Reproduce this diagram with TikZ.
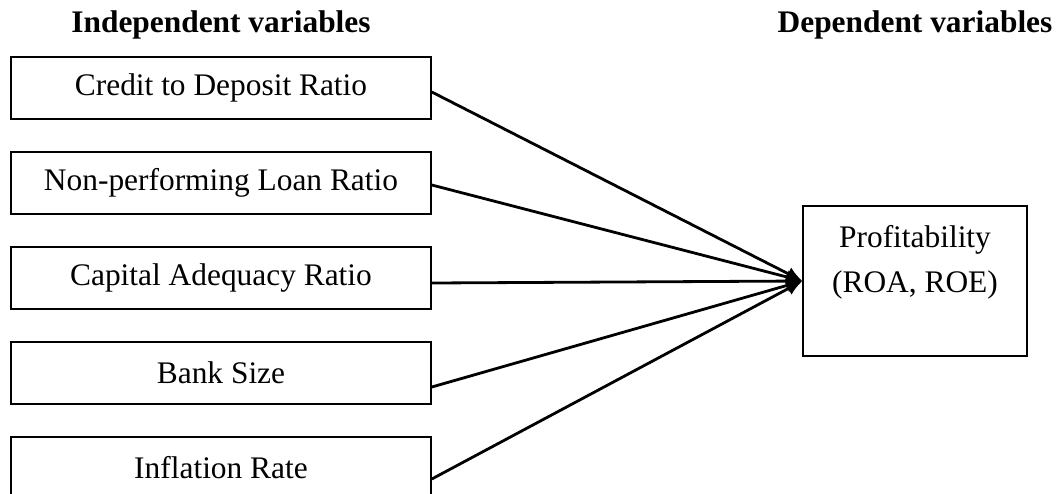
\documentclass[tikz,border=0pt]{standalone}
\usepackage{fontspec}
\setmainfont{Liberation Serif}
\usepackage{tikz}
\usetikzlibrary{calc,arrows.meta}

\tikzset{
  varbox/.style={draw, line width=0.8pt, minimum width=210pt, minimum height=31pt, inner sep=0pt},
  profbox/.style={draw, line width=0.6pt, minimum width=112pt, minimum height=75pt, align=center, inner sep=0pt},
  link/.style={line width=1.4pt, -{Latex[length=8pt,width=7pt]}},
  heading/.style={font={\fontsize{15.7}{22.5}\selectfont\bfseries}}
}

\begin{document}
\begin{tikzpicture}[x=0.5pt, y=-0.5pt, font={\fontsize{15.7}{22.5}\selectfont}]
    \clip (0,0) rectangle (1059,493);
    \useasboundingbox (0,0) rectangle (1059,493);
    % headings
    \node[heading] (indep) at (221,25) {Independent variables};
    \node[heading] (dep) at (915,25) {Dependent variables};

    % independent variables
    \node[varbox] (cdr) at (221,88) {Credit to Deposit Ratio};
    \node[varbox] (npl) at (221,183) {Non-performing Loan Ratio};
    \node[varbox] (car) at (221,278) {Capital Adequacy Ratio};
    \node[varbox] (size) at (221,373) {Bank Size};
    \node[varbox] (infl) at (221,468) {Inflation Rate};

    % dependent variable
    \node[profbox] (prof) at (915,281) {Profitability\\(ROA, ROE)\\~};

    % draw links
    \draw[link] ([yshift=-2pt]cdr.east) -- (prof.west);
    \draw[link] ([yshift=-1pt]npl.east) -- (prof.west);
    \draw[link] ([yshift=-2.5pt]car.east) -- (prof.west);
    \draw[link] ([yshift=-7pt]size.east) -- (prof.west);
    \draw[link] ([yshift=-5.5pt]infl.east) -- (prof.west);
\end{tikzpicture}
\end{document}
